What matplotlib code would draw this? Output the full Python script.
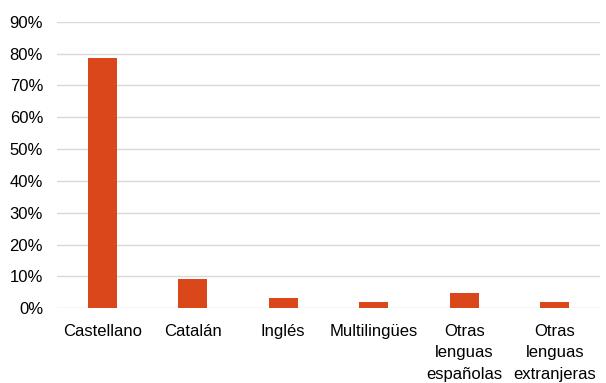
from matplotlib import pyplot as plt
from matplotlib.ticker import PercentFormatter
from matplotlib import font_manager

# Datos
categorias = ['Castellano', 'Catalán', 'Inglés', 'Multilingües',
              'Otras\nlenguas\nespañolas', 'Otras\nlenguas\nextranjeras']
porcentajes = [78.6, 9.1, 3.1, 1.9, 4.7, 1.9]
ticks_y = [0, 10, 20, 30, 40, 50, 60, 70, 80, 90]

nombres = {f.name for f in font_manager.fontManager.ttflist}
fuente = 'Liberation Sans Narrow' if 'Liberation Sans Narrow' in nombres else 'Liberation Sans'
plt.rcParams['font.family'] = [fuente, 'DejaVu Sans']

fig, ax = plt.subplots(figsize=(6.06, 3.83), dpi=100)
fig.subplots_adjust(left=0.094, right=0.99, top=0.943, bottom=0.195)

x = range(len(categorias))
ax.bar(x, porcentajes, width=0.32, color='#D9471B', zorder=3)

ax.set_ylim(0, 90)
ax.set_xlim(-0.5, len(categorias) - 0.5)
ax.set_yticks(ticks_y)
ax.yaxis.set_major_formatter(PercentFormatter(decimals=0))
ax.set_xticks(list(x))
ax.set_xticklabels(categorias, fontsize=12, linespacing=1.55, va='top')
ax.tick_params(axis='y', labelsize=12, length=0, pad=10)
ax.tick_params(axis='x', length=0, pad=11)
ax.grid(axis='y', color='#D9D9D9', linewidth=1, zorder=0)
for s in ax.spines.values():
    s.set_visible(False)

plt.savefig('out.png', dpi=100)
plt.close()
